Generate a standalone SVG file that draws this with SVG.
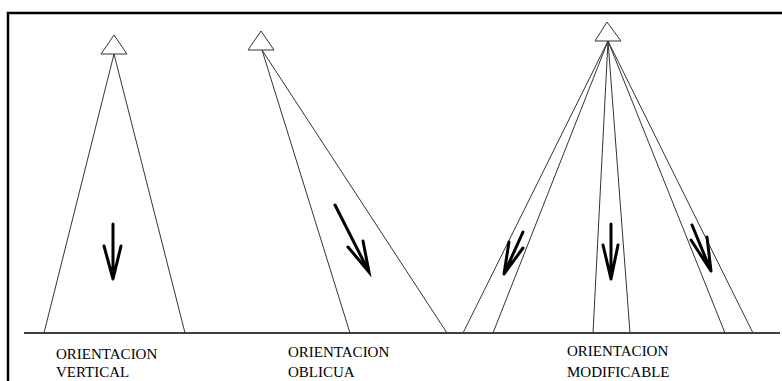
<svg xmlns="http://www.w3.org/2000/svg" width="782" height="381" viewBox="0 0 782 381">
<style>
.frame{stroke:#000;stroke-width:2.5;fill:none}
.base{stroke:#000;stroke-width:1.3;fill:none}
.beam{stroke:#333;stroke-width:1;fill:none}
.tri{stroke:#333;stroke-width:1;fill:#fff}
.arr{stroke:#000;stroke-width:3;fill:none;stroke-linecap:round;stroke-linejoin:miter}
.lbl{font-family:"Liberation Serif","Times New Roman",serif;font-size:15px;fill:#000}
</style>
<rect width="782" height="381" fill="#fff"/>
<path class="frame" d="M8,381 V13 H782"/>
<line class="base" x1="24" y1="333" x2="780" y2="333"/>
<g id="connectors">
<path class="beam" d="M114,54 L44,333 M114,54 L185,333"/>
<path class="beam" d="M262,50 L350,333 M262,50 L447,333"/>
<path class="beam" d="M608,41 L463,333 M608,41 L493,333 M608,41 L593,333 M608,41 L630,333 M608,41 L725,333 M608,41 L753,333"/>
</g>
<g id="vertical">
<polygon class="tri" points="114,35 101,54 127,54"/>
<path class="arr" d="M113,224 V279 M104,246 L113,279 L121,246"/>
<text class="lbl" x="56" y="359">ORIENTACION</text>
<text class="lbl" x="56" y="377">VERTICAL</text>
</g>
<g id="oblicua">
<polygon class="tri" points="261,31 248,50 274,50"/>
<path class="arr" d="M335,205 L369,272 M348,247 L369,272 L363,241"/>
<text class="lbl" x="288" y="357">ORIENTACION</text>
<text class="lbl" x="288" y="377">OBLICUA</text>
</g>
<g id="modificable">
<polygon class="tri" points="607,22 595,41 621,41"/>
<path class="arr" d="M523,232 L504,274 M509,242 L504,274 L523,248"/>
<path class="arr" d="M611,224 V279 M603,245 L611,279 L618,245"/>
<path class="arr" d="M692,225 L711,271 M691,240 L711,271 L707,237"/>
<text class="lbl" x="567" y="356">ORIENTACION</text>
<text class="lbl" x="567" y="377">MODIFICABLE</text>
</g>
</svg>
